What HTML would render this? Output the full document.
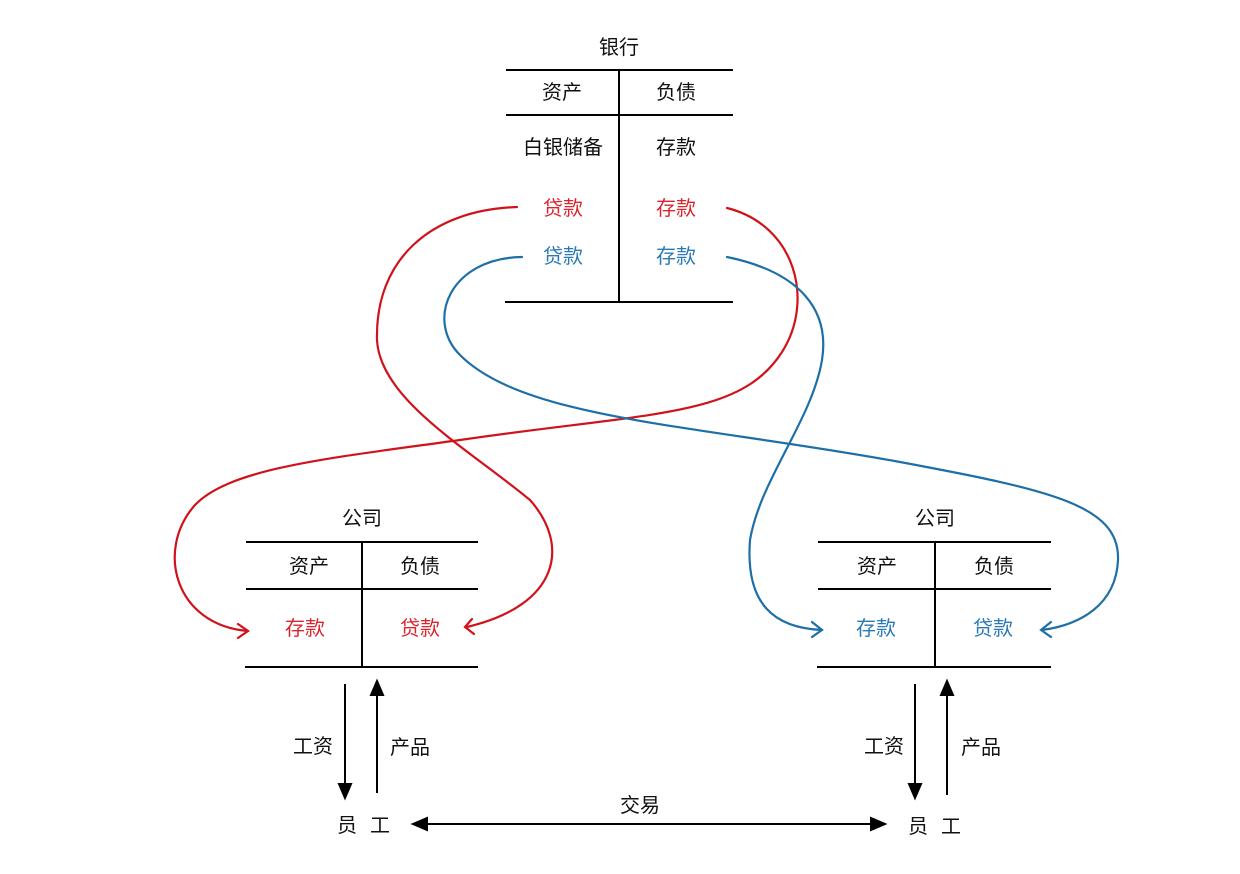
<!DOCTYPE html>
<html><head><meta charset="utf-8"><style>
html,body{margin:0;padding:0;background:#fff;}
svg{display:block;}
text{font-family:"Liberation Sans","Noto Sans CJK SC",sans-serif;font-size:20px;text-anchor:middle;dominant-baseline:central;fill:#111;}
.r{fill:#d9262e;} .b{fill:#2a7ab5;}
</style></head><body>
<svg width="1240" height="874" viewBox="0 0 1240 874" xmlns="http://www.w3.org/2000/svg">
<g stroke="#000" stroke-width="2" fill="none">
<line x1="506" y1="70" x2="733" y2="70"/><line x1="506" y1="115" x2="733" y2="115"/>
<line x1="505" y1="302" x2="733" y2="302"/><line x1="619" y1="70" x2="619" y2="302"/>
<line x1="246" y1="542" x2="478" y2="542"/><line x1="246" y1="589" x2="478" y2="589"/>
<line x1="245" y1="667" x2="478" y2="667"/><line x1="362" y1="542" x2="362" y2="667"/>
<line x1="818" y1="542" x2="1051" y2="542"/><line x1="818" y1="589" x2="1051" y2="589"/>
<line x1="817" y1="667" x2="1051" y2="667"/><line x1="935" y1="542" x2="935" y2="667"/>
</g>
<g stroke="#000" stroke-width="2" fill="#000">
<line x1="345" y1="684" x2="345" y2="787"/><path d="M339,784 L345,798 L351,784 z"/>
<line x1="377" y1="793" x2="377" y2="692"/><path d="M371,695 L377,681 L383,695 z"/>
<line x1="915" y1="684" x2="915" y2="787"/><path d="M909,784 L915,798 L921,784 z"/>
<line x1="947" y1="795" x2="947" y2="692"/><path d="M941,695 L947,681 L953,695 z"/>
<line x1="424" y1="824" x2="874" y2="824"/>
<path d="M427,818 L413,824 L427,830 z"/><path d="M871,818 L885,824 L871,830 z"/>
</g>
<g fill="none" stroke-width="2.2" stroke-linecap="round">
<path stroke="#d0121b" d="M517,207 C430,210 375,260 377,340 C380,400 470,450 530,500 C570,545 560,605 467,627"/>
<path stroke="#d0121b" d="M472,619 L465,627 L474,634"/>
<path stroke="#d0121b" d="M727,208 C795,225 815,300 782,352 C740,418 650,412 460,440 C330,458 230,468 195,505 C155,550 175,625 248,631"/>
<path stroke="#d0121b" d="M238,624 L248,631 L238,638"/>
<path stroke="#1d6fa8" d="M522,257 C450,258 425,320 460,355 C525,420 700,425 900,462 C1050,490 1120,505 1118,560 C1116,605 1080,625 1042,630"/>
<path stroke="#1d6fa8" d="M1051,622 L1041,630 L1051,637"/>
<path stroke="#1d6fa8" d="M727,257 C800,272 830,310 822,360 C812,420 760,480 750,540 C745,605 775,628 822,630"/>
<path stroke="#1d6fa8" d="M812,622 L822,630 L812,637"/>
</g>
<text x="619" y="48">银行</text>
<text x="562" y="93">资产</text><text x="676" y="93">负债</text>
<text x="563" y="148">白银储备</text><text x="676" y="148">存款</text>
<text class="r" x="563" y="209">贷款</text><text class="r" x="676" y="209">存款</text>
<text class="b" x="563" y="257">贷款</text><text class="b" x="676" y="257">存款</text>
<text x="362" y="519">公司</text>
<text x="309" y="567">资产</text><text x="420" y="567">负债</text>
<text class="r" x="305" y="629">存款</text><text class="r" x="420" y="629">贷款</text>
<text x="935" y="519">公司</text>
<text x="877" y="567">资产</text><text x="994" y="567">负债</text>
<text class="b" x="876" y="629">存款</text><text class="b" x="993" y="629">贷款</text>
<text x="313" y="747">工资</text><text x="410" y="748">产品</text>
<text x="884" y="747">工资</text><text x="981" y="748">产品</text>
<text x="347" y="826">员</text><text x="380" y="826">工</text>
<text x="918" y="827">员</text><text x="951" y="827">工</text>
<text x="640" y="806">交易</text>
</svg>
</body></html>
